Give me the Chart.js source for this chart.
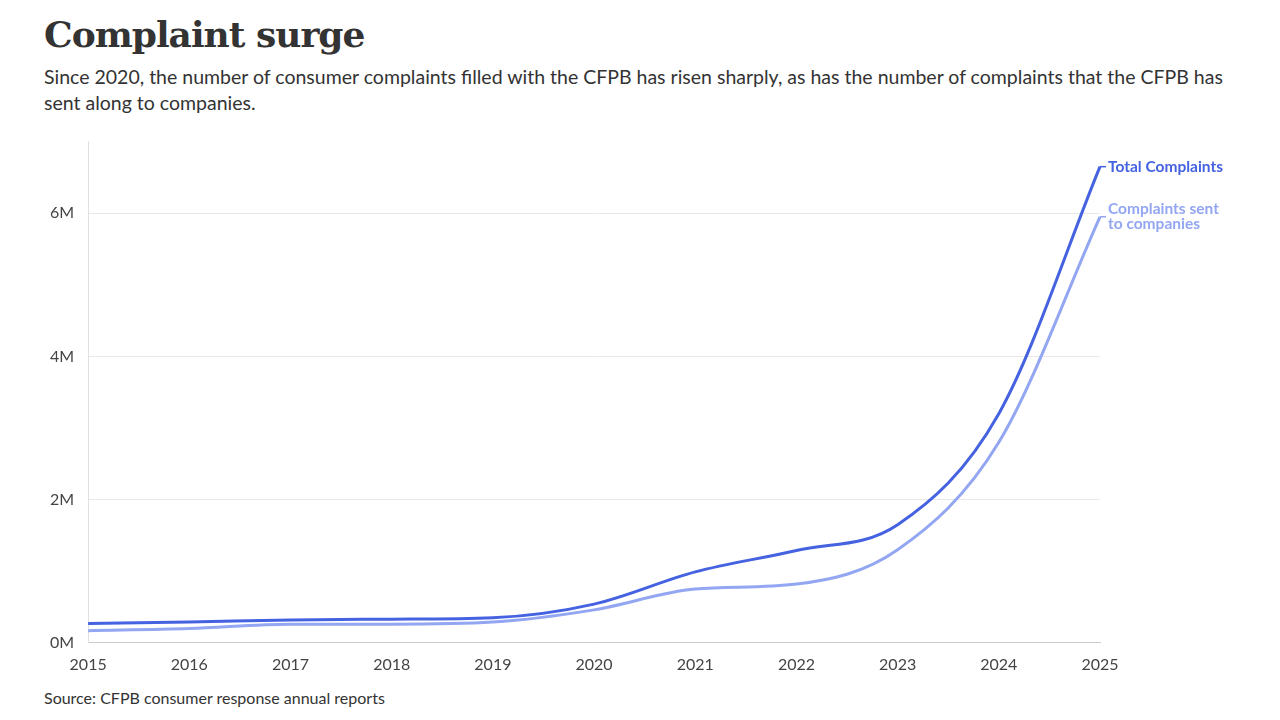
<!DOCTYPE html>
<html><head><meta charset="utf-8">
<script src="https://cdn.jsdelivr.net/npm/chart.js@4/dist/chart.umd.min.js"></script>
<style>
body{margin:0;width:1280px;height:720px;background:#fff;font-family:Lato,sans-serif;position:relative;overflow:hidden}
h1{position:absolute;left:44px;top:13px;margin:0;font-family:"DejaVu Serif",serif;font-size:36px;font-weight:bold;color:#333;letter-spacing:-1px}
p.sub{position:absolute;left:44px;top:64px;width:1200px;margin:0;font-size:19.5px;line-height:26px;color:#333}
p.src{position:absolute;left:44px;top:688px;margin:0;font-size:16px;color:#333}
#wrap{position:absolute;left:0;top:118px;width:1280px;height:560px}
</style></head><body>
<h1>Complaint surge</h1>
<p class="sub">Since 2020, the number of consumer complaints filled with the CFPB has risen sharply, as has the number of complaints that the CFPB has sent along to companies.</p>
<div id="wrap"><canvas id="c"></canvas></div>
<p class="src">Source: CFPB consumer response annual reports</p>
<script>
const years=["2015","2016","2017","2018","2019","2020","2021","2022","2023","2024","2025"];
const totalComplaints=[0.27,0.29,0.32,0.33,0.35,0.54,0.99,1.29,1.65,3.2,6.65];
const sentToCompanies=[0.17,0.20,0.26,0.26,0.29,0.46,0.75,0.82,1.30,2.8,5.95];
const seriesLabels=[["Total Complaints"],["Complaints sent","to companies"]];
const colors=["#4562e0","#93a6f2"];
const endLabels={id:"endLabels",afterDatasetsDraw(ch){const c=ch.ctx;ch.data.datasets.forEach((d,i)=>{const m=ch.getDatasetMeta(i).data;const p=m[m.length-1];c.save();c.strokeStyle=d.borderColor;c.lineWidth=1.5;c.beginPath();c.moveTo(p.x,p.y);c.lineTo(p.x+6,p.y);c.stroke();c.fillStyle=d.borderColor;c.font="bold 15.5px Lato";c.textBaseline="middle";seriesLabels[i].forEach((t,k)=>c.fillText(t,p.x+8,p.y-8*0+ (i===1?-8:0)+k*15));c.restore();});}};
new Chart(document.getElementById("c"),{type:"line",
data:{labels:years,datasets:[
{data:totalComplaints,borderColor:colors[0],borderWidth:3,pointRadius:0,cubicInterpolationMode:"monotone"},
{data:sentToCompanies,borderColor:colors[1],borderWidth:3,pointRadius:0,cubicInterpolationMode:"monotone"}]},
options:{responsive:true,maintainAspectRatio:false,animation:false,
layout:{padding:{left:36,right:180,top:10,bottom:0}},
plugins:{legend:{display:false},tooltip:{enabled:false}},
scales:{
x:{offset:false,grid:{display:false},border:{color:"#ccc"},ticks:{color:"#444",font:{family:"Lato",size:16},maxRotation:0,padding:4}},
y:{min:0,max:7,afterBuildTicks(s){s.ticks=[0,2,4,6].map(v=>({value:v}));},
grid:{color:c=>c.tick&&c.tick.value===0?"rgba(0,0,0,0)":"#e8e8e8",drawTicks:false},
border:{color:"#e0e0e0"},
ticks:{color:"#444",font:{family:"Lato",size:16},padding:14,callback:v=>v+"M"}}}},
plugins:[endLabels]});
</script>
</body></html>
